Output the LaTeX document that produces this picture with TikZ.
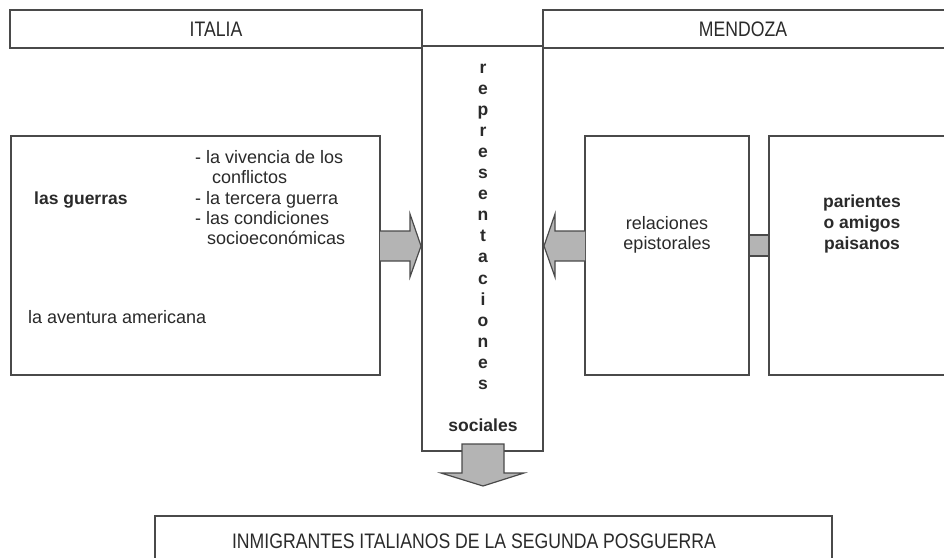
\documentclass[tikz,border=0pt]{standalone}
\usepackage{fontspec}
\setmainfont{Liberation Sans}
\newfontfamily\narrowfont[FakeStretch=0.84]{Liberation Sans}
\begin{document}
\begin{tikzpicture}[x=1pt,y=-1pt,
  box/.style={draw=linegray,line width=1.4pt,fill=white},
  blockarrow/.style={draw=linegray,line width=1.2pt,fill=arrowgray,line join=miter},
  txt/.style={inner sep=0pt,text=textgray,font=\fontsize{18}{20}\selectfont},
  btxt/.style={txt,font=\fontsize{17.5}{21}\selectfont\bfseries},
  htxt/.style={inner sep=0pt,text=textgray,font=\fontsize{21}{22}\selectfont\narrowfont}]
\definecolor{linegray}{HTML}{4A4A4A}
\definecolor{arrowgray}{HTML}{B4B4B4}
\definecolor{textgray}{HTML}{2A2A2A}
\useasboundingbox (0,0) rectangle (944,557);
\clip (0,0) rectangle (944,557);
% central column
\draw[box] (422,46) rectangle (543,451);
% header boxes
\draw[box] (10,10) rectangle (422,48);
\node[htxt] (italia) at (216,29) {ITALIA};
\draw[box] (543,10) rectangle (950,48);
\node[htxt] (mendoza) at (743,29) {MENDOZA};
% vertical word
\foreach \l [count=\i from 0] in {r,e,p,r,e,s,e,n,t,a,c,i,o,n,e,s}{
  \node[btxt,anchor=base] (v\i) at (483,73+\i*21.1) {\l};
}
\node[btxt,anchor=base] (sociales) at (483,431) {sociales};
% left box
\draw[box] (11,136) rectangle (380,375);
\node[btxt,anchor=base west] (guerras) at (34,204) {las guerras};
\node[txt,anchor=base west] (b1) at (195,163) {- la vivencia de los};
\node[txt,anchor=base west] (b1b) at (212,183) {conflictos};
\node[txt,anchor=base west] (b2) at (195,204) {- la tercera guerra};
\node[txt,anchor=base west] (b3) at (195,224) {- las condiciones};
\node[txt,anchor=base west] (b3b) at (207,244) {socioeconómicas};
\node[txt,anchor=base west] (aventura) at (28,323) {la aventura americana};
% right boxes
\draw[box] (585,136) rectangle (749,375);
\node[txt,align=center] (relaciones) at (667,235) {relaciones\\epistorales};
\draw[box] (769,136) rectangle (950,375);
\node[btxt,align=center] (parientes) at (862,224) {parientes\\o amigos\\paisanos};
% connector between right boxes
\draw[blockarrow] (749,235) rectangle (769,256);
% arrow left box -> column
\draw[blockarrow] (380,231) -- (410,231) -- (410,214) -- (421,246) -- (410,277) -- (410,261) -- (380,261);
% arrow relaciones -> column
\draw[blockarrow] (585,231) -- (555,231) -- (555,214) -- (544,246) -- (555,277) -- (555,261) -- (585,261);
% down arrow
\draw[blockarrow] (462,444) -- (504,444) -- (504,473) -- (524,473) -- (483,486) -- (441,473) -- (462,473) -- cycle;
% bottom box
\draw[box] (155,516) rectangle (832,570);
\node[htxt] (inmig) at (474,541) {INMIGRANTES ITALIANOS DE LA SEGUNDA POSGUERRA};
\end{tikzpicture}
\end{document}
